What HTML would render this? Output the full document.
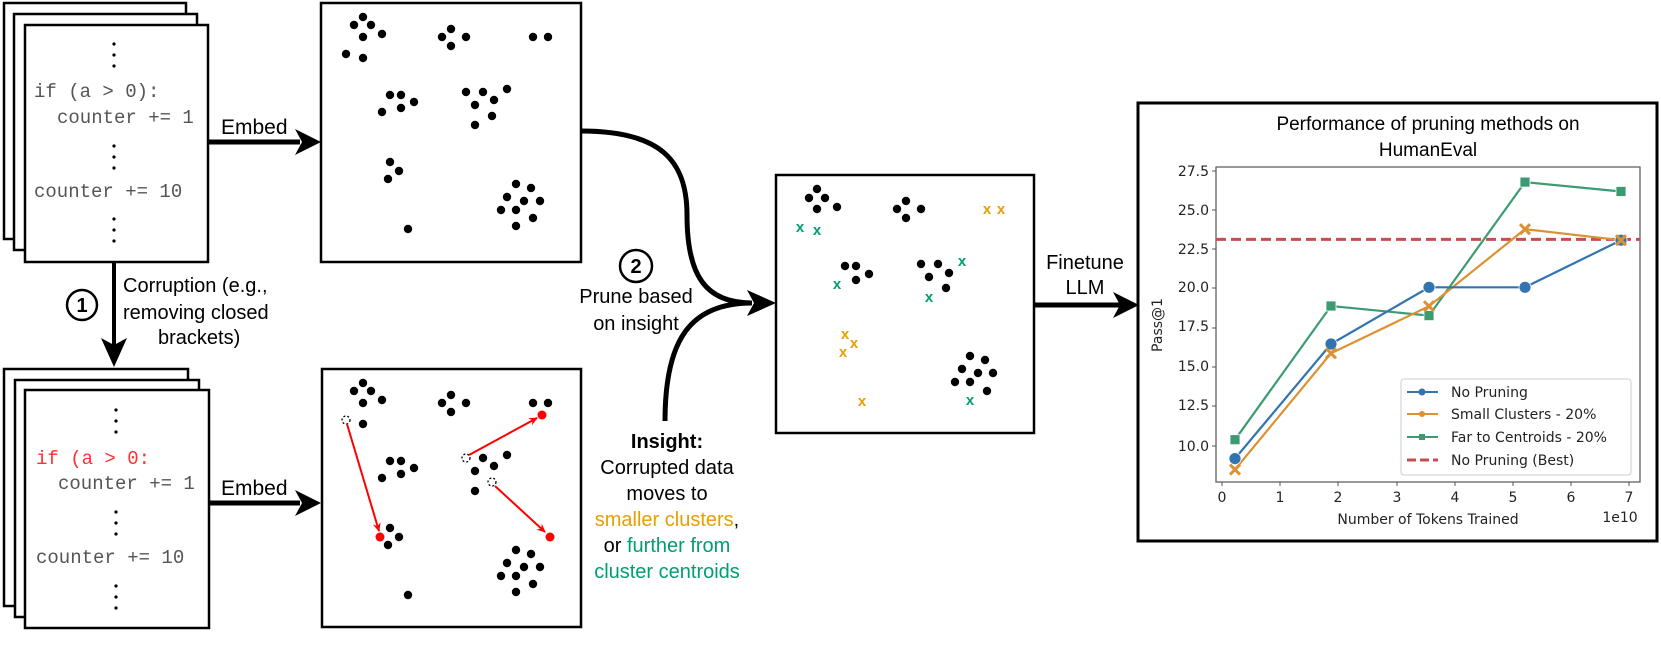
<!DOCTYPE html>
<html><head><meta charset="utf-8"><style>
html,body{margin:0;padding:0;background:#fff;}
svg{display:block;}
</style></head><body>
<svg width="1661" height="646" viewBox="0 0 1661 646" xmlns="http://www.w3.org/2000/svg" font-family="Liberation Sans, sans-serif">
<defs>
<g id="d"><circle r="4.2" fill="#000"/></g>
<marker id="ra" markerWidth="10" markerHeight="10" refX="8" refY="5" orient="auto" markerUnits="userSpaceOnUse"><path d="M0,1 L9,5 L0,9 L3,5 Z" fill="#f00"/></marker>
</defs>

<g fill="#fff" stroke="#000" stroke-width="2.5">
<rect x="4" y="3" width="182" height="236"/>
<rect x="14" y="14" width="183" height="236"/>
<rect x="25" y="25" width="183" height="237"/>
</g>
<g font-family="Liberation Mono, monospace" font-size="19" fill="#555">
<text x="34" y="97">if (a &gt; 0):</text>
<text x="57" y="123">counter += 1</text>
<text x="34" y="197">counter += 10</text>
</g>
<g fill="#000">
<circle cx="114" cy="44" r="1.6"/><circle cx="114" cy="55" r="1.6"/><circle cx="114" cy="66" r="1.6"/>
<circle cx="114" cy="146" r="1.6"/><circle cx="114" cy="157" r="1.6"/><circle cx="114" cy="168" r="1.6"/>
<circle cx="114" cy="219" r="1.6"/><circle cx="114" cy="230" r="1.6"/><circle cx="114" cy="241" r="1.6"/>
</g>

<g fill="#fff" stroke="#000" stroke-width="2.5">
<rect x="4" y="369" width="184" height="237"/>
<rect x="15" y="380" width="184" height="237"/>
<rect x="25" y="390" width="184" height="238"/>
</g>
<g font-family="Liberation Mono, monospace" font-size="19">
<text x="36" y="464" fill="#ff3030">if (a &gt; 0:</text>
<text x="58" y="489" fill="#555">counter += 1</text>
<text x="36" y="563" fill="#555">counter += 10</text>
</g>
<g fill="#000">
<circle cx="116" cy="410" r="1.6"/><circle cx="116" cy="421" r="1.6"/><circle cx="116" cy="432" r="1.6"/>
<circle cx="116" cy="512" r="1.6"/><circle cx="116" cy="523" r="1.6"/><circle cx="116" cy="534" r="1.6"/>
<circle cx="116" cy="586" r="1.6"/><circle cx="116" cy="597" r="1.6"/><circle cx="116" cy="608" r="1.6"/>
</g>

<line x1="114" y1="262" x2="114" y2="345" stroke="#000" stroke-width="4"/>
<path d="M101,338 L114,367 L127,338 L114,345 Z" fill="#000"/>
<circle cx="82" cy="305" r="15" fill="none" stroke="#000" stroke-width="2.5"/>
<text x="82" y="312" font-size="20" text-anchor="middle" font-weight="bold">1</text>
<g font-size="20" fill="#000">
<text x="123" y="292">Corruption (e.g.,</text>
<text x="123" y="319">removing closed</text>
<text x="158" y="344">brackets)</text>
</g>

<line x1="208" y1="142" x2="300" y2="142" stroke="#000" stroke-width="5"/>
<path d="M295,129 L321,142 L295,155 L302,142 Z" fill="#000"/>
<text x="221" y="134" font-size="21">Embed</text>
<line x1="210" y1="503" x2="300" y2="503" stroke="#000" stroke-width="5"/>
<path d="M295,490 L321,503 L295,516 L302,503 Z" fill="#000"/>
<text x="221" y="495" font-size="21">Embed</text>

<rect x="321" y="3" width="260" height="259" fill="#fff" stroke="#000" stroke-width="2.5"/>
<g>
<use href="#d" x="363" y="17"/><use href="#d" x="354" y="25"/><use href="#d" x="371" y="25"/><use href="#d" x="363" y="37"/><use href="#d" x="382" y="34"/><use href="#d" x="346" y="54"/><use href="#d" x="363" y="58"/>
<use href="#d" x="451" y="29"/><use href="#d" x="442" y="37"/><use href="#d" x="466" y="37"/><use href="#d" x="451" y="46"/>
<use href="#d" x="533" y="37"/><use href="#d" x="548" y="37"/>
<use href="#d" x="390" y="95"/><use href="#d" x="401" y="95"/><use href="#d" x="414" y="102"/><use href="#d" x="401" y="108"/><use href="#d" x="382" y="112"/>
<use href="#d" x="466" y="92"/><use href="#d" x="483" y="92"/><use href="#d" x="507" y="89"/><use href="#d" x="475" y="105"/><use href="#d" x="494" y="100"/><use href="#d" x="492" y="116"/><use href="#d" x="475" y="125"/>
<use href="#d" x="390" y="162"/><use href="#d" x="399" y="171"/><use href="#d" x="388" y="179"/>
<use href="#d" x="516" y="184"/><use href="#d" x="531" y="188"/><use href="#d" x="507" y="197"/><use href="#d" x="524" y="201"/><use href="#d" x="540" y="201"/><use href="#d" x="501" y="210"/><use href="#d" x="516" y="210"/><use href="#d" x="533" y="218"/><use href="#d" x="516" y="226"/>
<use href="#d" x="408" y="229"/>
</g>

<rect x="322" y="369" width="259" height="258" fill="#fff" stroke="#000" stroke-width="2.5"/>
<g transform="translate(0,366)">
<use href="#d" x="363" y="17"/><use href="#d" x="354" y="25"/><use href="#d" x="371" y="25"/><use href="#d" x="363" y="37"/><use href="#d" x="382" y="34"/><use href="#d" x="363" y="58"/>
<use href="#d" x="451" y="29"/><use href="#d" x="442" y="37"/><use href="#d" x="466" y="37"/><use href="#d" x="451" y="46"/>
<use href="#d" x="533" y="37"/><use href="#d" x="548" y="37"/>
<use href="#d" x="390" y="95"/><use href="#d" x="401" y="95"/><use href="#d" x="414" y="102"/><use href="#d" x="401" y="108"/><use href="#d" x="382" y="112"/>
<use href="#d" x="483" y="92"/><use href="#d" x="507" y="89"/><use href="#d" x="475" y="105"/><use href="#d" x="494" y="100"/><use href="#d" x="475" y="125"/>
<use href="#d" x="390" y="162"/><use href="#d" x="399" y="171"/><use href="#d" x="388" y="179"/>
<use href="#d" x="516" y="184"/><use href="#d" x="531" y="188"/><use href="#d" x="507" y="197"/><use href="#d" x="524" y="201"/><use href="#d" x="540" y="201"/><use href="#d" x="501" y="210"/><use href="#d" x="516" y="210"/><use href="#d" x="533" y="218"/><use href="#d" x="516" y="226"/>
<use href="#d" x="408" y="229"/>
</g>
<g fill="none" stroke="#000" stroke-width="1.3" stroke-dasharray="2,2">
<circle cx="346" cy="420" r="4"/><circle cx="466" cy="458" r="4"/><circle cx="492" cy="482" r="4"/>
</g>
<g stroke="#f00" stroke-width="2" marker-end="url(#ra)">
<line x1="347" y1="424" x2="379" y2="531"/>
<line x1="469" y1="455" x2="537" y2="418"/>
<line x1="495" y1="486" x2="545" y2="532"/>
</g>
<g fill="#f00"><circle cx="380" cy="537" r="4.5"/><circle cx="542" cy="415" r="4.5"/><circle cx="550" cy="537" r="4.5"/></g>

<path d="M581,131 C660,131 687,160 687,215 C687,275 705,303 752,303" fill="none" stroke="#000" stroke-width="5"/>
<path d="M665,421 C665,340 690,303 752,303" fill="none" stroke="#000" stroke-width="5"/>
<path d="M747,290 L776,303 L747,316 L754,303 Z" fill="#000"/>
<circle cx="636" cy="266" r="16" fill="none" stroke="#000" stroke-width="2.5"/>
<text x="636" y="273" font-size="20" text-anchor="middle" font-weight="bold">2</text>
<g font-size="20" text-anchor="middle">
<text x="636" y="303">Prune based</text>
<text x="636" y="330">on insight</text>
</g>

<g font-size="20" text-anchor="middle">
<text x="667" y="448" font-weight="bold">Insight:</text>
<text x="667" y="474">Corrupted data</text>
<text x="667" y="500">moves to</text>
<text x="667" y="526"><tspan fill="#e69f00">smaller clusters</tspan>,</text>
<text x="667" y="552">or <tspan fill="#009e73">further from</tspan></text>
<text x="667" y="578" fill="#009e73">cluster centroids</text>
</g>

<rect x="776" y="175" width="258" height="258" fill="#fff" stroke="#000" stroke-width="2.5"/>
<g>
<use href="#d" x="817" y="189"/><use href="#d" x="809" y="198"/><use href="#d" x="825" y="198"/><use href="#d" x="817" y="209"/><use href="#d" x="837" y="207"/>
<use href="#d" x="906" y="201"/><use href="#d" x="897" y="209"/><use href="#d" x="921" y="209"/><use href="#d" x="906" y="218"/>
<use href="#d" x="845" y="266"/><use href="#d" x="856" y="266"/><use href="#d" x="856" y="280"/><use href="#d" x="869" y="274"/>
<use href="#d" x="921" y="264"/><use href="#d" x="938" y="264"/><use href="#d" x="929" y="277"/><use href="#d" x="949" y="273"/><use href="#d" x="946" y="288"/>
<use href="#d" x="970" y="356"/><use href="#d" x="985" y="360"/><use href="#d" x="962" y="369"/><use href="#d" x="978" y="373"/><use href="#d" x="993" y="373"/><use href="#d" x="955" y="382"/><use href="#d" x="970" y="382"/><use href="#d" x="987" y="391"/>
</g>
<g font-size="15" font-weight="bold" text-anchor="middle">
<g fill="#009e73">
<text x="800" y="232">x</text><text x="817" y="235">x</text><text x="837" y="289">x</text>
<text x="962" y="266">x</text><text x="929" y="302">x</text><text x="970" y="405">x</text>
</g>
<g fill="#e69f00">
<text x="987" y="214">x</text><text x="1001" y="214">x</text>
<text x="845" y="339">x</text><text x="854" y="348">x</text><text x="843" y="357">x</text>
<text x="862" y="406">x</text>
</g>
</g>

<line x1="1034" y1="305" x2="1120" y2="305" stroke="#000" stroke-width="5"/>
<path d="M1113,292 L1139,305 L1113,318 L1120,305 Z" fill="#000"/>
<g font-size="20" text-anchor="middle">
<text x="1085" y="269">Finetune</text>
<text x="1085" y="294">LLM</text>
</g>

<rect x="1138" y="103" width="519" height="438" fill="#fff" stroke="#000" stroke-width="3"/>
<g font-size="19" text-anchor="middle" fill="#000">
<text x="1428" y="130">Performance of pruning methods on</text>
<text x="1428" y="156">HumanEval</text>
</g>
<rect x="1216" y="167" width="424" height="315" fill="none" stroke="#555" stroke-width="1.2"/>
<g font-family="DejaVu Sans, sans-serif" font-size="14" fill="#222" text-anchor="end">
<text x="1209" y="176">27.5</text>
<text x="1209" y="215">25.0</text>
<text x="1209" y="254">22.5</text>
<text x="1209" y="292">20.0</text>
<text x="1209" y="331">17.5</text>
<text x="1209" y="371">15.0</text>
<text x="1209" y="410">12.5</text>
<text x="1209" y="451">10.0</text>
</g>
<g stroke="#555" stroke-width="1">
<line x1="1212" y1="171" x2="1216" y2="171"/><line x1="1212" y1="210" x2="1216" y2="210"/><line x1="1212" y1="249" x2="1216" y2="249"/><line x1="1212" y1="288" x2="1216" y2="288"/><line x1="1212" y1="328" x2="1216" y2="328"/><line x1="1212" y1="367" x2="1216" y2="367"/><line x1="1212" y1="406" x2="1216" y2="406"/><line x1="1212" y1="446" x2="1216" y2="446"/>
<line x1="1222" y1="482" x2="1222" y2="486"/><line x1="1280" y1="482" x2="1280" y2="486"/><line x1="1338" y1="482" x2="1338" y2="486"/><line x1="1397" y1="482" x2="1397" y2="486"/><line x1="1455" y1="482" x2="1455" y2="486"/><line x1="1513" y1="482" x2="1513" y2="486"/><line x1="1571" y1="482" x2="1571" y2="486"/><line x1="1629" y1="482" x2="1629" y2="486"/>
</g>
<g font-family="DejaVu Sans, sans-serif" font-size="14" fill="#222" text-anchor="middle">
<text x="1222" y="502">0</text><text x="1280" y="502">1</text><text x="1338" y="502">2</text><text x="1397" y="502">3</text><text x="1455" y="502">4</text><text x="1513" y="502">5</text><text x="1571" y="502">6</text><text x="1629" y="502">7</text>
<text x="1428" y="524">Number of Tokens Trained</text>
<text x="1620" y="522">1e10</text>
<text transform="translate(1162,325) rotate(-90)">Pass@1</text>
</g>
<line x1="1216" y1="239.4" x2="1640" y2="239.4" stroke="#c44e52" stroke-width="3" stroke-dasharray="10,5"/>
<polyline points="1235,439.7 1331,306 1429,315.6 1525,182.1 1621,191.5" fill="none" stroke="#3d9b72" stroke-width="2.2"/>
<polyline points="1235,469.6 1331,353.3 1429,306.2 1525,229.2 1621,240.2" fill="none" stroke="#dc9132" stroke-width="2.2"/>
<polyline points="1235,458.6 1331,344 1429,287.3 1525,287.3 1621,240.2" fill="none" stroke="#3274b0" stroke-width="2.2"/>
<g fill="#3d9b72" stroke="#fff" stroke-width="0.8">
<rect x="1230" y="434.7" width="10" height="10"/><rect x="1326" y="301" width="10" height="10"/><rect x="1424" y="310.6" width="10" height="10"/><rect x="1520" y="177.1" width="10" height="10"/><rect x="1616" y="186.5" width="10" height="10"/>
</g>
<g fill="#3274b0" stroke="#fff" stroke-width="0.8">
<circle cx="1235" cy="458.6" r="6"/><circle cx="1331" cy="344" r="6"/><circle cx="1429" cy="287.3" r="6"/><circle cx="1525" cy="287.3" r="6"/><circle cx="1621" cy="240.2" r="6"/>
</g>
<g stroke="#dc9132" stroke-width="3">
<path d="M1230,464.6 l10,10 m0,-10 l-10,10"/><path d="M1326,348.3 l10,10 m0,-10 l-10,10"/><path d="M1424,301.2 l10,10 m0,-10 l-10,10"/><path d="M1520,224.2 l10,10 m0,-10 l-10,10"/><path d="M1616,235.2 l10,10 m0,-10 l-10,10"/>
</g>
<rect x="1401" y="379" width="230" height="96" rx="3" fill="#fff" fill-opacity="0.85" stroke="#ccc" stroke-width="1"/>
<g stroke-width="2">
<line x1="1407" y1="392" x2="1438" y2="392" stroke="#3274b0"/><circle cx="1422" cy="392" r="3.5" fill="#3274b0"/>
<line x1="1407" y1="414" x2="1438" y2="414" stroke="#dc9132"/><circle cx="1422" cy="414" r="3" fill="#dc9132"/>
<line x1="1407" y1="437" x2="1438" y2="437" stroke="#3d9b72"/><rect x="1419" y="434" width="6" height="6" fill="#3d9b72"/>
<line x1="1407" y1="460" x2="1438" y2="460" stroke="#c44e52" stroke-width="3" stroke-dasharray="9,4"/>
</g>
<g font-family="DejaVu Sans, sans-serif" font-size="14" fill="#222">
<text x="1451" y="397">No Pruning</text>
<text x="1451" y="419">Small Clusters - 20%</text>
<text x="1451" y="442">Far to Centroids - 20%</text>
<text x="1451" y="465">No Pruning (Best)</text>
</g>
</svg>
</body></html>
